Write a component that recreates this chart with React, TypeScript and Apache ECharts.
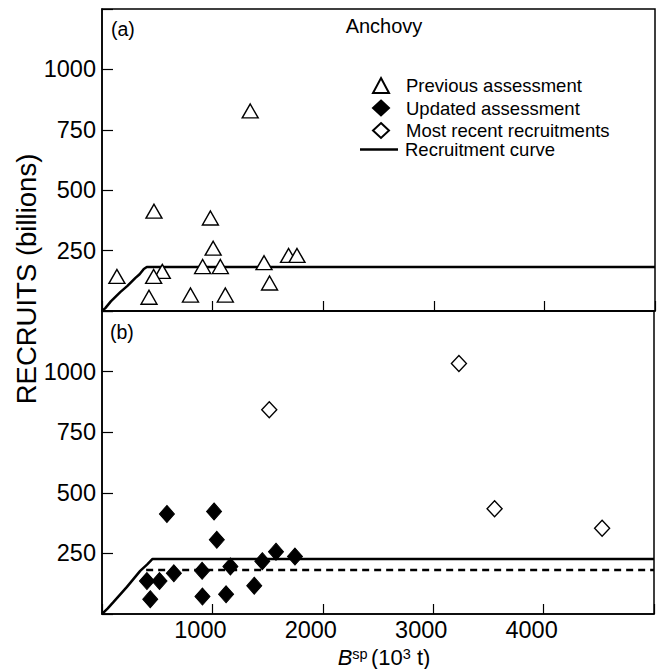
import React, { useEffect, useRef } from 'react';
import * as echarts from 'echarts';

const FONT = '"Liberation Sans", Arial, Helvetica, sans-serif';

// (a) previous assessment: spawning biomass (10^3 t) and recruits (billions)
const previousX = [135, 470, 980, 1005, 545, 467, 910, 1070, 1465, 1687, 1763, 1515, 425, 800, 1115, 1340];
const previousY = [143, 413, 385, 260, 164, 143, 184, 184, 200, 230, 230, 116, 57, 66, 66, 828];

// (b) updated assessment
const updatedX = [588, 1015, 1040, 407, 521, 651, 437, 907, 910, 1163, 1124, 1379, 1452, 1576, 1748];
const updatedY = [413, 423, 306, 136, 136, 168, 61, 178, 72, 196, 81, 117, 218, 257, 237];

// (b) most recent recruitments
const recentX = [1515, 3233, 3556, 4530];
const recentY = [843, 1033, 434, 354];

// recruitment curves
const prevCurveX = [0, 30, 80, 165, 230, 300, 340, 378, 405, 5000];
const prevCurveY = [0, 12, 40, 78, 104, 136, 152, 174, 182, 182];
const newCurveX = [0, 50, 105, 226, 346, 410, 458, 5000];
const newCurveY = [0, 22, 50, 112, 178, 205, 227, 227];
const oldCurveX = [400, 5000];
const oldCurveY = [182, 182];

const xTicks = [0, 1000, 2000, 3000, 4000, 5000];
const yTicks = [0, 250, 500, 750, 1000, 1250];

const markerLegend = ['Previous assessment', 'Updated assessment', 'Most recent recruitments'];
const lineLegend = ['Recruitment curve'];

const zip = (xs: number[], ys: number[]) => xs.map((x, i) => [x, ys[i]]);

export default function App() {
  const ref = useRef<HTMLDivElement>(null);
  useEffect(() => {
    const chart = echarts.init(ref.current!, undefined, { renderer: 'svg' });
    const xMin = xTicks[0];
    const xMax = xTicks[xTicks.length - 1];
    const yMin = yTicks[0];
    const yMax = yTicks[yTicks.length - 1];
    const axisLine = { show: true, lineStyle: { color: '#000', width: 1.5 } };
    const mkX = (gridIndex: number, showLabel: boolean) => ({
      type: 'value',
      gridIndex,
      min: xMin,
      max: xMax,
      interval: 1000,
      axisLine,
      axisTick: { show: true, inside: true, length: 10, lineStyle: { color: '#000', width: 1.2 } },
      axisLabel: {
        show: showLabel,
        color: '#000',
        fontSize: 23.5,
        fontFamily: FONT,
        margin: 4,
        padding: [0, 24, 0, 0],
        formatter: (v: number) => (v === xMin || v === xMax ? '' : String(v)),
      },
      splitLine: { show: false },
    });
    const mkY = (gridIndex: number) => ({
      type: 'value',
      gridIndex,
      min: yMin,
      max: yMax,
      interval: 250,
      axisLine,
      axisTick: { show: true, inside: true, length: 11, lineStyle: { color: '#000', width: 1.2 } },
      axisLabel: {
        color: '#000',
        fontSize: 23.5,
        fontFamily: FONT,
        margin: 6,
        formatter: (v: number) => (v === yMin || v === yMax ? '' : String(v)),
      },
      splitLine: { show: false },
    });
    const openStyle = { color: '#fff', borderColor: '#000', borderWidth: 1.4, opacity: 1 };
    const legendText = { color: '#000', fontSize: 18.5, fontFamily: FONT, lineHeight: 16 };
    chart.setOption({
      animation: false,
      backgroundColor: '#fff',
      grid: [
        { left: 102, right: 2, top: 9, height: 302, show: true, borderColor: '#000', borderWidth: 1.5, backgroundColor: 'transparent' },
        { left: 102, right: 2, top: 311, height: 303, show: true, borderColor: '#000', borderWidth: 1.5, backgroundColor: 'transparent' },
      ],
      xAxis: [mkX(0, false), mkX(1, true)],
      yAxis: [mkY(0), mkY(1)],
      legend: [
        {
          data: markerLegend,
          orient: 'vertical',
          left: 372,
          top: 76,
          padding: 0,
          itemWidth: 16,
          itemHeight: 15,
          itemGap: 3.5,
          textStyle: { ...legendText, padding: [0, 0, 0, 12] },
          selectedMode: false,
        },
        {
          data: lineLegend.map((name) => ({ name, icon: 'rect' })),
          orient: 'vertical',
          left: 360,
          top: 140,
          padding: 0,
          itemWidth: 38,
          itemHeight: 2.5,
          textStyle: { ...legendText, padding: [0, 0, 0, 2] },
          selectedMode: false,
        },
      ],
      graphic: [
        { type: 'text', left: 111, top: 19, style: { text: '(a)', fontSize: 19.5, fontFamily: FONT, fill: '#000' } },
        { type: 'text', left: 110, top: 322, style: { text: '(b)', fontSize: 19.5, fontFamily: FONT, fill: '#000' } },
        { type: 'text', x: 384, y: 26, style: { text: 'Anchovy', fontSize: 20, fontFamily: FONT, fill: '#000', align: 'center', verticalAlign: 'middle' } },
        {
          type: 'text', x: 26, y: 279, rotation: Math.PI / 2,
          style: { text: 'RECRUITS (billions)', fontSize: 27.5, fontFamily: FONT, fill: '#000', align: 'center', verticalAlign: 'middle' },
        },
        {
          type: 'text', x: 384, y: 657,
          style: {
            text: '{i|B}{s|sp} {n|(10}{s|3}{n| t)}',
            fontFamily: FONT, fill: '#000', align: 'center', verticalAlign: 'middle',
            rich: {
              i: { fontSize: 22, fontStyle: 'italic', fontFamily: FONT, fill: '#000', verticalAlign: 'bottom' },
              n: { fontSize: 22, fontFamily: FONT, fill: '#000', verticalAlign: 'bottom' },
              s: { fontSize: 14.5, fontFamily: FONT, fill: '#000', verticalAlign: 'top' },
            },
          },
        },
      ],
      series: [
        {
          name: 'Recruitment curve', type: 'line', xAxisIndex: 0, yAxisIndex: 0,
          data: zip(prevCurveX, prevCurveY), symbol: 'none', lineStyle: { color: '#000', width: 2.5 },
          itemStyle: { color: '#000' }, z: 2,
        },
        {
          name: 'Previous assessment', type: 'scatter', xAxisIndex: 0, yAxisIndex: 0,
          data: zip(previousX, previousY), symbol: 'triangle', symbolSize: [16, 14], itemStyle: openStyle, z: 3,
        },
        {
          name: 'Recruitment curve', type: 'line', xAxisIndex: 1, yAxisIndex: 1,
          data: zip(newCurveX, newCurveY), symbol: 'none', lineStyle: { color: '#000', width: 2.5 },
          itemStyle: { color: '#000' }, z: 2,
        },
        {
          name: 'Previous recruitment curve', type: 'line', xAxisIndex: 1, yAxisIndex: 1,
          data: zip(oldCurveX, oldCurveY), symbol: 'none',
          lineStyle: { color: '#000', width: 2.5, type: [7, 5] }, z: 2,
        },
        {
          name: 'Updated assessment', type: 'scatter', xAxisIndex: 1, yAxisIndex: 1,
          data: zip(updatedX, updatedY), symbol: 'diamond', symbolSize: [15, 17],
          itemStyle: { color: '#000', borderColor: '#000', borderWidth: 1, opacity: 1 }, z: 3,
        },
        {
          name: 'Most recent recruitments', type: 'scatter', xAxisIndex: 1, yAxisIndex: 1,
          data: zip(recentX, recentY), symbol: 'diamond', symbolSize: [15, 16], itemStyle: openStyle, z: 3,
        },
      ],
    });
    return () => chart.dispose();
  }, []);
  return <div ref={ref} style={{ position: 'fixed', left: 0, top: 0, width: 657, height: 669, background: '#fff' }} />;
}
